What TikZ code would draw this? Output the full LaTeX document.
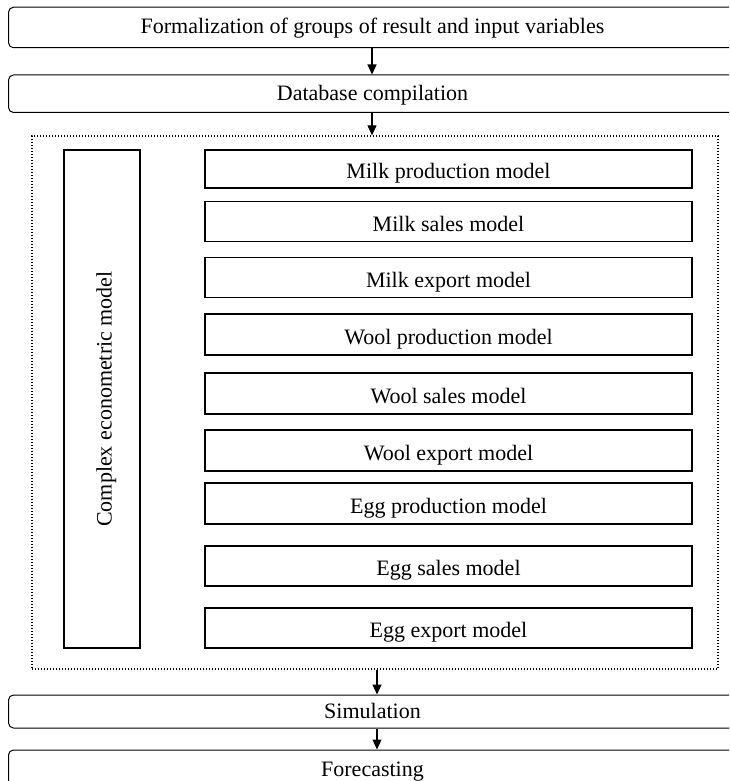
\documentclass[tikz,border=0pt]{standalone}
\usepackage{fontspec}
\setmainfont{Liberation Serif}
\usetikzlibrary{arrows.meta,positioning}

\tikzset{
  stage/.style={draw, rounded corners=5pt, line width=1pt, inner sep=0pt,
    anchor=west, minimum width=772pt, minimum height=#1},
  stage/.default=40pt,
  stagetext/.style={xshift=-22pt, inner sep=0pt, text height=17pt, text depth=4pt},
  modelbox/.style={draw, line width=1.2pt, inner sep=0pt, text height=19pt, text depth=0pt,
    minimum width=487pt, minimum height=40pt},
  frame/.style={draw, line width=1.3pt, dash pattern=on 1.3pt off 1.7pt},
  arr/.style={line width=1.1pt, -{Triangle[length=10pt,width=9pt]}},
}

\begin{document}
\begin{tikzpicture}[x=1pt, y=-1pt, font=\fontsize{22}{26}\selectfont]
  \useasboundingbox (0,0) rectangle (729,781);
  \clip (0,0) rectangle (729,781);
  \coordinate (axis) at (372,0);
  % steps before the models
  \node [stage=40.5pt, label={[stagetext]center:Formalization of groups of result and input variables}]
    (form) at (8,27.5) {};
  \node [stage=37.5pt, label={[stagetext]center:Database compilation}] (db) at (8,93.75) {};
  % block of models
  \node [frame, minimum width=686pt, minimum height=533pt] (frame) at (375,402.5) {};
  \node [modelbox, rotate=90, minimum width=498pt, minimum height=76pt]
    (cem) at (102,399) {Complex econometric model};
  \node [modelbox, minimum height=38pt] (milkprod) at (448.5,169) {Milk production model};
  \node [modelbox] (milksales) at (448.5,221.5) {Milk sales model};
  \node [modelbox] (milkexp) at (448.5,277.5) {Milk export model};
  \node [modelbox, minimum height=41pt] (woolprod) at (448.5,334.5) {Wool production model};
  \node [modelbox, minimum height=41pt] (woolsales) at (448.5,393.5) {Wool sales model};
  \node [modelbox, minimum height=41pt] (woolexp) at (448.5,450.5) {Wool export model};
  \node [modelbox, minimum height=41pt] (eggprod) at (448.5,503.5) {Egg production model};
  \node [modelbox] (eggsales) at (448.5,566) {Egg sales model};
  \node [modelbox] (eggexp) at (448.5,628) {Egg export model};
  % steps after the models
  \node [stage=33pt, label={[stagetext]center:Simulation}] (sim) at (8,711.5) {};
  \node [stage, label={[stagetext]center:Forecasting}] (fore) at (8,770) {};
  \draw [arr] (form.south -| axis) -- (db.north -| axis);
  \draw [arr] (db.south -| axis) -- (frame.north -| axis);
  \draw [arr] ([xshift=2pt]frame.south) -- ([xshift=2pt]frame.south |- sim.north);
  \draw [arr] ([xshift=2pt]frame.south |- sim.south) -- ([xshift=2pt]frame.south |- fore.north);
\end{tikzpicture}
\end{document}
